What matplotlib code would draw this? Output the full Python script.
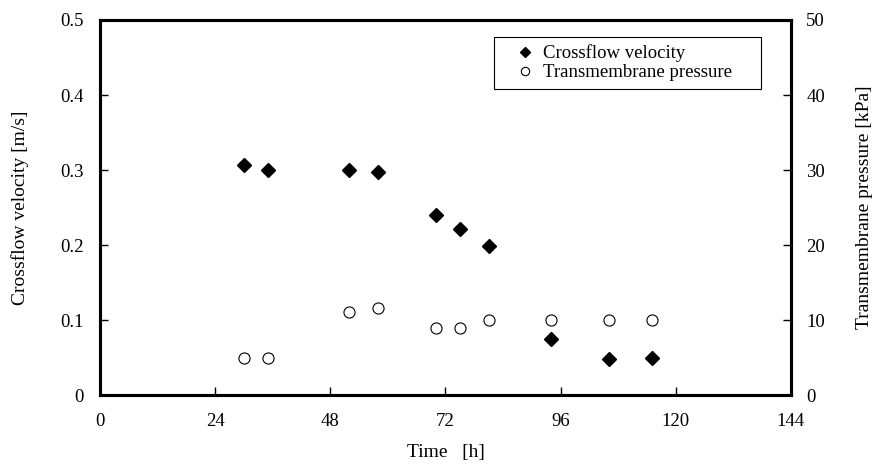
"""
Crossflow velocity / transmembrane pressure vs time
"""
import matplotlib
matplotlib.use("Agg")
import matplotlib.pyplot as plt
from matplotlib.ticker import FuncFormatter

# data
time_cfv = [30, 35, 52, 58, 70, 75, 81, 94, 106, 115]
cfv = [0.307, 0.300, 0.300, 0.298, 0.240, 0.221, 0.199, 0.075, 0.048, 0.049]

time_tmp = [30, 35, 52, 58, 70, 75, 81, 94, 106, 115]
tmp = [5.0, 5.0, 11.1, 11.6, 9.0, 9.0, 10.0, 10.0, 10.0, 10.0]

x_ticks = [0, 24, 48, 72, 96, 120, 144]
y1_ticks = [0, 0.1, 0.2, 0.3, 0.4, 0.5]
y2_ticks = [0, 10, 20, 30, 40, 50]

plt.rcParams['font.family'] = ['Liberation Serif', 'DejaVu Serif']
plt.rcParams['font.size'] = 13.5


def main():
    fig = plt.figure(figsize=(8.73, 4.76), dpi=100)
    ax = fig.add_axes([0.1145, 0.170, 0.7915, 0.788])
    ax2 = ax.twinx()

    h1, = ax.plot(time_cfv, cfv, linestyle='none', marker='D', ms=7,
                  mfc='black', mec='black', label='Crossflow velocity')
    h2, = ax2.plot(time_tmp, tmp, linestyle='none', marker='o', ms=8,
                   mfc='white', mec='black', mew=0.8,
                   label='Transmembrane pressure')

    ax.set_xlim(0, 144)
    ax.set_ylim(0, 0.5)
    ax2.set_ylim(0, 50)
    ax.set_xticks(x_ticks)
    ax.set_yticks(y1_ticks)
    ax2.set_yticks(y2_ticks)
    ax.yaxis.set_major_formatter(FuncFormatter(lambda v, p: '0' if v == 0 else f'{v:.1f}'))

    ax.tick_params(axis='x', direction='in', length=6, width=1, pad=13,
                   top=False)
    ax.tick_params(axis='y', direction='in', length=6, width=1, pad=12)
    ax2.tick_params(axis='y', direction='in', length=6, width=1, pad=11)

    for a in (ax, ax2):
        for s in a.spines.values():
            s.set_linewidth(2.2)
            s.set_color('black')

    ax.set_xlabel('Time   [h]', labelpad=10, fontsize=14)
    ax.set_ylabel('Crossflow velocity [m/s]', labelpad=22.5, fontsize=14)
    ax2.set_ylabel('Transmembrane pressure [kPa]', labelpad=22.5, fontsize=14)

    # legend box is wide in the original -> stretch it with mode='expand'
    leg = ax.legend(handles=[h1, h2], loc='upper left', mode='expand',
                    bbox_to_anchor=(0.570, 0.5, 0.386, 0.455), borderaxespad=0,
                    fancybox=False, edgecolor='black', framealpha=1,
                    fontsize=13.5, handlelength=2.5, handletextpad=-0.3,
                    borderpad=0.4, labelspacing=0.1, markerscale=0.75)
    leg.get_frame().set_linewidth(0.8)

    plt.savefig('out.png', dpi=100)
    plt.close()


if __name__ == "__main__":
    main()
